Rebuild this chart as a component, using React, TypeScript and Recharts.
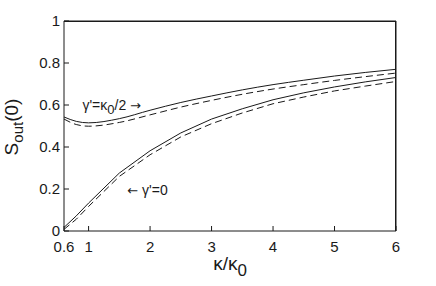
import { LineChart, Line, XAxis, YAxis, ReferenceDot, ReferenceLine, Label } from 'recharts'

// kappa / kappa_0
const kappaRatio = [0.6, 0.8, 1, 1.5, 2, 2.5, 3, 3.5, 4, 4.5, 5, 5.5, 6]

// gamma' = kappa_0 / 2
const halfSolid = [0.543, 0.522, 0.515, 0.535, 0.575, 0.612, 0.643, 0.672, 0.697, 0.718, 0.738, 0.755, 0.77]
const halfDashed = [0.533, 0.507, 0.499, 0.517, 0.553, 0.59, 0.622, 0.651, 0.676, 0.697, 0.717, 0.735, 0.752]

// gamma' = 0
const zeroSolid = [0.017, 0.072, 0.133, 0.276, 0.382, 0.467, 0.533, 0.582, 0.625, 0.658, 0.686, 0.71, 0.731]
const zeroDashed = [0.008, 0.056, 0.117, 0.26, 0.363, 0.448, 0.511, 0.562, 0.606, 0.638, 0.667, 0.69, 0.712]

const xTicks = [0.6, 1, 2, 3, 4, 5, 6]
const yTicks = [0, 0.2, 0.4, 0.6, 0.8, 1]

const data = kappaRatio.map((k, i) => ({
  k,
  halfSolid: halfSolid[i],
  halfDashed: halfDashed[i],
  zeroSolid: zeroSolid[i],
  zeroDashed: zeroDashed[i]
}))

const xMin = xTicks[0]
const xMax = xTicks[xTicks.length - 1]
const yMin = yTicks[0]
const yMax = yTicks[yTicks.length - 1]

const W = 436
const H = 286
const margin = { top: 21, right: 40, bottom: 0, left: 0 }
const yAxisW = 64
const xAxisH = 55

const font = '"Liberation Sans", Arial, Helvetica, sans-serif'
const arrowFont = '"DejaVu Sans", sans-serif'
const ink = '#1a1a1a'
const tickStyle = { fill: ink, fontSize: 15, fontFamily: font }

export default function App() {
  return (
    <div style={{ position: 'absolute', left: 0, top: 0, width: W, height: H, background: '#fff' }}>
      <LineChart width={W} height={H} data={data} margin={margin}>
        <XAxis
          dataKey="k"
          type="number"
          domain={[xMin, xMax]}
          allowDataOverflow
          ticks={xTicks}
          tickFormatter={(v: number) => String(v)}
          height={xAxisH}
          tickSize={-5}
          tickMargin={15}
          tick={tickStyle}
          axisLine={{ stroke: ink }}
          tickLine={{ stroke: ink }}
        >
          <Label
            content={({ viewBox }: any) => (
              <text
                x={viewBox.x + viewBox.width / 2}
                y={viewBox.y + 39}
                textAnchor="middle"
                fill={ink}
                fontSize={19}
                fontFamily={font}
              >
                κ/κ<tspan dy={6} fontSize={17}>0</tspan>
              </text>
            )}
          />
        </XAxis>
        <YAxis
          type="number"
          domain={[yMin, yMax]}
          ticks={yTicks}
          tickFormatter={(v: number) => String(v)}
          width={yAxisW}
          tickSize={-5}
          tickMargin={9}
          tick={tickStyle}
          axisLine={{ stroke: ink }}
          tickLine={{ stroke: ink }}
        >
          <Label
            content={({ viewBox }: any) => {
              const cx = 18
              const cy = viewBox.y + viewBox.height / 2 + 1
              return (
                <text
                  x={cx}
                  y={cy}
                  transform={`rotate(-90, ${cx}, ${cy})`}
                  textAnchor="middle"
                  fill={ink}
                  fontSize={19}
                  fontFamily={font}
                >
                  S<tspan dy={5} fontSize={15}>out</tspan>
                  <tspan dy={-5}>(0)</tspan>
                </text>
              )
            }}
          />
        </YAxis>

        <ReferenceLine y={yMax} stroke={ink} ifOverflow="visible" />
        <ReferenceLine x={xMax} stroke={ink} ifOverflow="visible" />

        <Line type="monotone" dataKey="halfSolid" stroke={ink} strokeWidth={1} dot={false} isAnimationActive={false} />
        <Line type="monotone" dataKey="halfDashed" stroke={ink} strokeWidth={1} strokeDasharray="7 4" dot={false} isAnimationActive={false} />
        <Line type="linear" dataKey="zeroSolid" stroke={ink} strokeWidth={1} dot={false} isAnimationActive={false} />
        <Line type="linear" dataKey="zeroDashed" stroke={ink} strokeWidth={1} strokeDasharray="7 4" dot={false} isAnimationActive={false} />

        <ReferenceDot
          x={0.9}
          y={0.6}
          r={0}
          fill="none"
          stroke="none"
          label={{
            content: ({ viewBox }: any) => (
              <text x={viewBox.x} y={viewBox.y + 5} fill={ink} fontSize={14} fontFamily={font}>
                γ'=κ<tspan dy={4} fontSize={13}>0</tspan>
                <tspan dy={-4}>/2 </tspan>
                <tspan fontFamily={arrowFont} fontSize={13}>→</tspan>
              </text>
            )
          }}
        />
        <ReferenceDot
          x={1.63}
          y={0.197}
          r={0}
          fill="none"
          stroke="none"
          label={{
            content: ({ viewBox }: any) => (
              <text x={viewBox.x} y={viewBox.y + 5} fill={ink} fontSize={14} fontFamily={font}>
                <tspan fontFamily={arrowFont} fontSize={13}>←</tspan> γ'=0
              </text>
            )
          }}
        />
      </LineChart>
      {/* top/right edges of the box frame */}
      <div
        style={{
          position: 'absolute',
          left: margin.left + yAxisW,
          top: margin.top,
          width: W - margin.left - margin.right - yAxisW,
          height: H - margin.top - margin.bottom - xAxisH,
          boxSizing: 'border-box',
          borderTop: `1px solid ${ink}`,
          borderRight: `1px solid ${ink}`,
          pointerEvents: 'none'
        }}
      />
    </div>
  )
}
